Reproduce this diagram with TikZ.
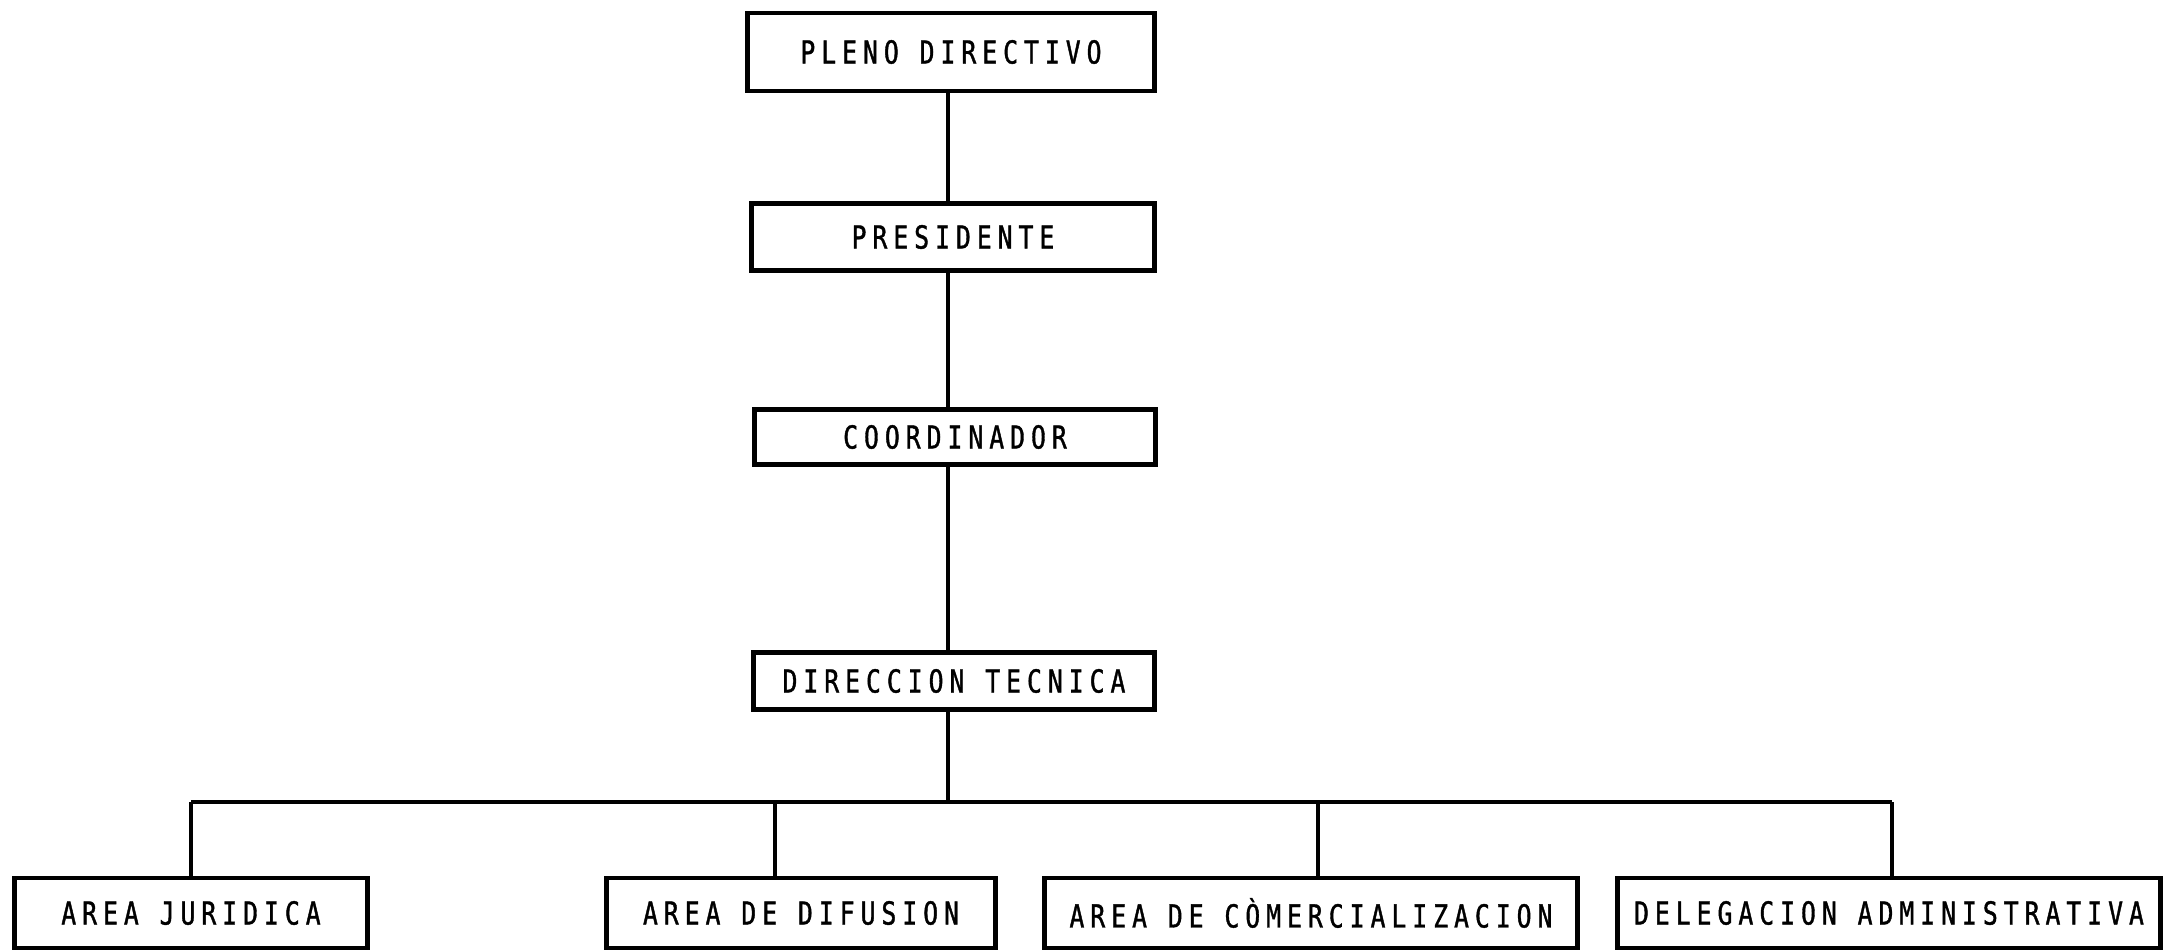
\documentclass[tikz,border=0pt]{standalone}
\usepackage{fontspec}
\newfontfamily\typewriter[FakeStretch=0.78,LetterSpace=19,FakeBold=1.2]{DejaVu Sans Mono}
\begin{document}
\begin{tikzpicture}[x=0.01cm,y=-0.01cm]
\useasboundingbox (0,0) rectangle (2181,951);
\begin{scope}[every node/.style={rectangle,draw,line width=1.4pt,inner sep=0pt,font=\typewriter\fontsize{9}{10}\selectfont,minimum height=0.7cm}]
	\node[minimum width=4.06cm,minimum height=0.78cm] (PD) at (951,52) {PLENO DIRECTIVO};
	\node[minimum width=4.03cm,minimum height=0.67cm] (PR) at (953,237) {PRESIDENTE};
	\node[minimum width=4.00cm,minimum height=0.55cm] (CO) at (955,437) {COORDINADOR};
	\node[minimum width=4.00cm,minimum height=0.57cm] (DT) at (954,681) {DIRECCION TECNICA};
	\node[minimum width=3.53cm] (AJ) at (191,913) {AREA JURIDICA};
	\node[minimum width=3.88cm] (AD) at (801,913) {AREA DE DIFUSION};
	\node[minimum width=5.33cm] (AC) at (1311,913) {AREA DE CÒMERCIALIZACION};
	\node[minimum width=5.42cm] (DA) at (1889,913) {DELEGACION ADMINISTRATIVA};
\end{scope}

\coordinate (spine) at (948,0);
\coordinate (BJ) at (191,802);
\coordinate (BD) at (775,802);
\coordinate (BC) at (1318,802);
\coordinate (BA) at (1892,802);

\begin{scope}[every edge/.style={draw=black,line width=1pt}]
	\path (PD.south -| spine) edge (PR.north -| spine);
	\path (PR.south -| spine) edge (CO.north -| spine);
	\path (CO.south -| spine) edge (DT.north -| spine);
	\path (DT.south -| spine) edge (BJ -| spine);
	\path [line width=1.4pt] (BJ) edge (BA);
	\path (BJ) edge (BJ |- AJ.north);
	\path (BD) edge (BD |- AD.north);
	\path (BC) edge (BC |- AC.north);
	\path (BA) edge (BA |- DA.north);
\end{scope}
\end{tikzpicture}
\end{document}
